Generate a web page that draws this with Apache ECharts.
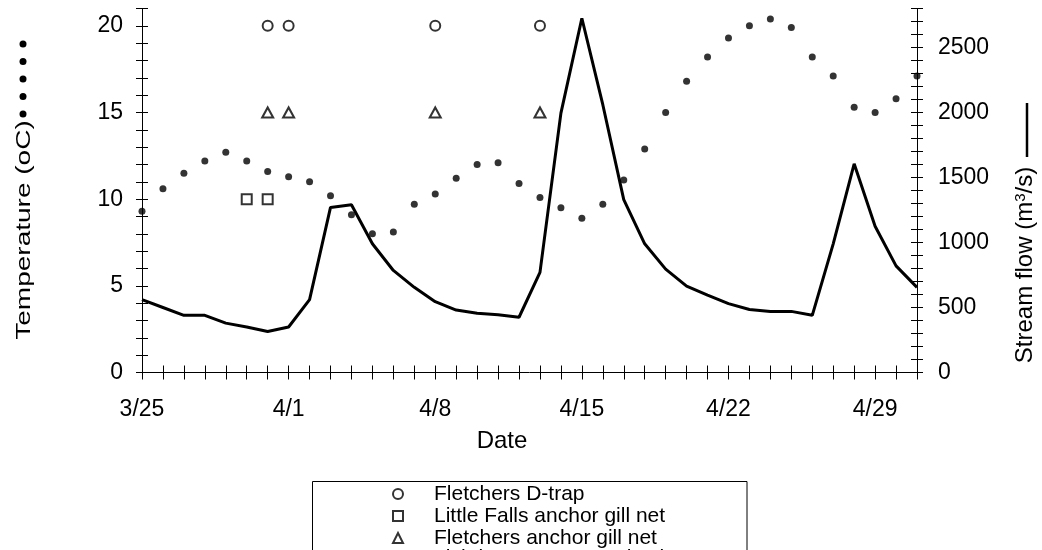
<!DOCTYPE html>
<html>
<head>
<meta charset="utf-8">
<script src="https://cdn.jsdelivr.net/npm/echarts@6/dist/echarts.min.js"></script>
<style>
html, body { margin: 0; padding: 0; background: #fff; }
#main { width: 1042px; height: 550px; }
</style>
</head>
<body>
<div id="main"></div>
<script>
var days = ['3/25', '3/26', '3/27', '3/28', '3/29', '3/30', '3/31',
    '4/1', '4/2', '4/3', '4/4', '4/5', '4/6', '4/7', '4/8', '4/9', '4/10',
    '4/11', '4/12', '4/13', '4/14', '4/15', '4/16', '4/17', '4/18', '4/19', '4/20',
    '4/21', '4/22', '4/23', '4/24', '4/25', '4/26', '4/27', '4/28', '4/29', '4/30', '5/1'];
var dateLabels = ['3/25', '4/1', '4/8', '4/15', '4/22', '4/29'];
var tempLabels = [0, 5, 10, 15, 20];
var flowLabels = [0, 500, 1000, 1500, 2000, 2500];

// water temperature (oC), one per day
var temp = [9.3, 10.6, 11.5, 12.2, 12.7, 12.2, 11.6, 11.3, 11.0, 10.2, 9.1, 8.0, 8.1,
    9.7, 10.3, 11.2, 12.0, 12.1, 10.9, 10.1, 9.5, 8.9, 9.7, 11.1, 12.9, 15.0, 16.8,
    18.2, 19.3, 20.0, 20.4, 19.9, 18.2, 17.1, 15.3, 15.0, 15.8, 17.1];
// stream flow (m3/s), one per day
var flow = [560, 500, 440, 440, 380, 350, 315, 350, 560, 1270, 1290, 990, 785,
    655, 545, 480, 455, 445, 425, 770, 1995, 2725, 2060, 1330, 990, 795, 665,
    595, 530, 485, 470, 470, 440, 990, 1605, 1125, 820, 655];

// sampling days
var dTrap = [['3/31', 20], ['4/1', 20], ['4/8', 20], ['4/13', 20]];
var lfGill = [['3/30', 10], ['3/31', 10]];
var fGill = [['3/31', 15], ['4/1', 15], ['4/8', 15], ['4/13', 15]];

var font = 'Liberation Sans, Arial, sans-serif';
var black = '#000';

function xAx(inside, show) {
    return {
        type: 'category',
        data: days,
        boundaryGap: false,
        position: 'bottom',
        axisLine: { show: show, lineStyle: { color: black, width: 1 } },
        axisTick: { show: true, interval: 0, inside: inside, length: 7, lineStyle: { color: black, width: 1 } },
        axisLabel: {
            show: show,
            interval: function (i, v) { return dateLabels.indexOf(v) >= 0; },
            margin: 26,
            fontSize: 23,
            fontFamily: font,
            color: black
        },
        splitLine: { show: false }
    };
}

function yAx(pos, max, step, labels, inside, show) {
    return {
        type: 'value',
        position: pos,
        min: 0,
        max: max,
        interval: step,
        axisLine: { show: show, lineStyle: { color: black, width: 1 } },
        axisTick: { show: true, inside: inside, length: 6, lineStyle: { color: black, width: 1 } },
        axisLabel: {
            show: show,
            margin: pos == 'left' ? 19 : 21,
            fontSize: 23,
            fontFamily: font,
            color: black,
            formatter: function (v) { return labels.indexOf(v) >= 0 ? v : ''; }
        },
        splitLine: { show: false }
    };
}

var myChart = echarts.init(document.getElementById('main'));
var option = {
    animation: false,
    backgroundColor: '#fff',
    grid: { left: 142, right: 125, top: 8.5, bottom: 177.5 },
    xAxis: [xAx(false, true), xAx(true, false)],
    yAxis: [
        yAx('left', 21, 1, tempLabels, false, true),
        yAx('right', 2800, 100, flowLabels, false, true),
        yAx('left', 21, 1, tempLabels, true, false),
        yAx('right', 2800, 100, flowLabels, true, false)
    ],
    legend: {
        orient: 'vertical',
        left: 392,
        top: 483,
        height: 200,
        padding: 0,
        itemWidth: 10,
        itemHeight: 10,
        itemGap: 0,
        data: ['Fletchers D-trap', 'Little Falls anchor gill net', 'Fletchers anchor gill net'],
        textStyle: {
            fontSize: 21,
            fontFamily: font,
            color: black,
            lineHeight: 22,
            padding: [0, 0, 0, 26]
        }
    },
    graphic: [
        {
            type: 'text', x: 24, y: 230, rotation: Math.PI / 2, scaleX: 1.4,
            style: { text: 'Temperature (oC)', font: '20px ' + font, fill: black, align: 'center', verticalAlign: 'middle' }
        },
        { type: 'circle', shape: { cx: 23, cy: 44, r: 3.5 }, style: { fill: black } },
        { type: 'circle', shape: { cx: 23, cy: 61.5, r: 3.5 }, style: { fill: black } },
        { type: 'circle', shape: { cx: 23, cy: 79, r: 3.5 }, style: { fill: black } },
        { type: 'circle', shape: { cx: 23, cy: 96.5, r: 3.5 }, style: { fill: black } },
        { type: 'circle', shape: { cx: 23, cy: 114, r: 3.5 }, style: { fill: black } },
        {
            type: 'text', x: 1025, y: 265, rotation: Math.PI / 2,
            style: {
                text: 'Stream flow (m{sup|3}/s)', font: '24px ' + font, fill: black,
                align: 'center', verticalAlign: 'middle',
                rich: { sup: { fontSize: 15, fontFamily: font, verticalAlign: 'top', padding: [0, 0, 9, 0] } }
            }
        },
        { type: 'line', shape: { x1: 1027, y1: 103, x2: 1027, y2: 157 }, style: { stroke: black, lineWidth: 2.5 } },
        {
            type: 'text', x: 502, y: 441,
            style: { text: 'Date', font: '24px ' + font, fill: black, align: 'center', verticalAlign: 'middle' }
        },
        {
            type: 'rect', shape: { x: 312.5, y: 481.5, width: 434.5, height: 120 },
            style: { fill: 'none', stroke: black, lineWidth: 1 }
        },
        {
            type: 'text', x: 433, y: 558,
            style: { text: 'Fish larvae tows at Fletchers', font: '21px ' + font, fill: black, verticalAlign: 'middle' }
        }
    ],
    series: [
        {
            name: 'Stream flow',
            type: 'line',
            xAxisIndex: 0,
            yAxisIndex: 1,
            data: flow,
            showSymbol: false,
            lineStyle: { color: black, width: 3 },
            z: 2
        },
        {
            name: 'Temperature',
            type: 'scatter',
            xAxisIndex: 0,
            yAxisIndex: 0,
            data: temp,
            symbol: 'circle',
            symbolSize: 7,
            itemStyle: { color: black },
            z: 3
        },
        {
            name: 'Fletchers D-trap',
            type: 'scatter',
            yAxisIndex: 0,
            data: dTrap,
            symbol: 'emptyCircle',
            symbolSize: 10,
            itemStyle: { color: black, borderWidth: 1.8 },
            z: 3
        },
        {
            name: 'Little Falls anchor gill net',
            type: 'scatter',
            yAxisIndex: 0,
            data: lfGill,
            symbol: 'emptyRect',
            symbolSize: 10,
            itemStyle: { color: black, borderWidth: 1.8 },
            z: 3
        },
        {
            name: 'Fletchers anchor gill net',
            type: 'scatter',
            yAxisIndex: 0,
            data: fGill,
            symbol: 'emptyTriangle',
            symbolSize: [11, 10],
            itemStyle: { color: black, borderWidth: 1.8 },
            z: 3
        }
    ]
};
myChart.setOption(option);
</script>
</body>
</html>
